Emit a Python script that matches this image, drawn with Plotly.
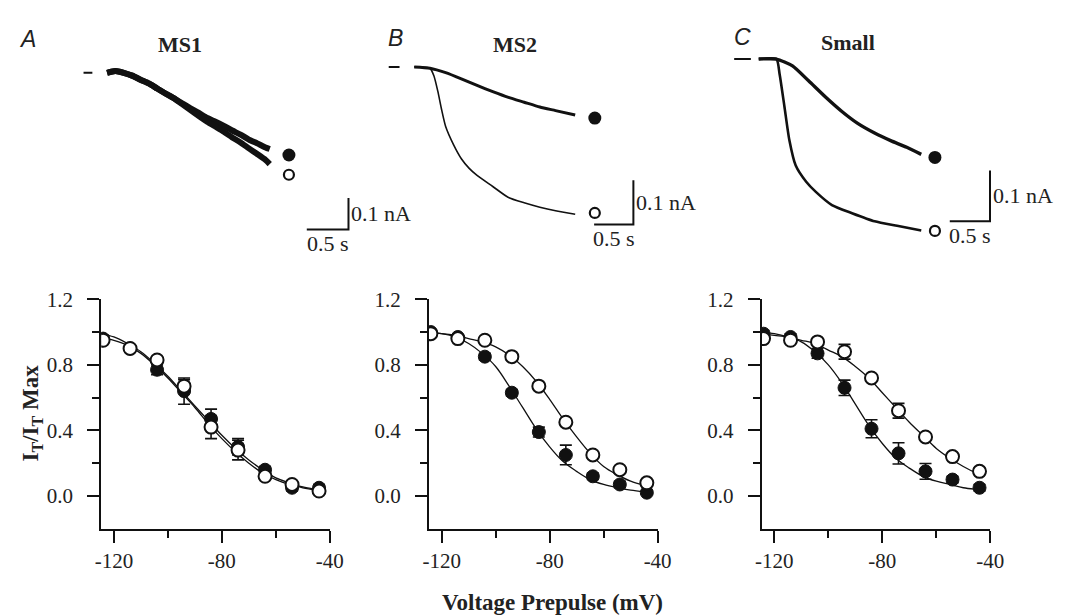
import plotly.graph_objects as go

W, H = 1073, 616

# ---------------- data: bottom row (steady-state inactivation) ----------------
v_prepulse = [-124, -114, -104, -94, -84, -74, -64, -54, -44]

ms1_filled = [0.96, 0.90, 0.77, 0.64, 0.47, 0.30, 0.16, 0.05, 0.05]
ms1_filled_err = [0.02, 0.02, 0.03, 0.08, 0.06, 0.05, 0.02, 0.02, 0.02]
ms1_open = [0.95, 0.90, 0.83, 0.67, 0.42, 0.28, 0.12, 0.07, 0.03]
ms1_open_err = [0.02, 0.02, 0.02, 0.04, 0.07, 0.06, 0.02, 0.02, 0.02]

ms2_filled = [1.00, 0.97, 0.85, 0.63, 0.39, 0.25, 0.12, 0.07, 0.02]
ms2_filled_err = [0.01, 0.01, 0.02, 0.02, 0.03, 0.06, 0.02, 0.02, 0.01]
ms2_open = [0.99, 0.96, 0.95, 0.85, 0.67, 0.45, 0.25, 0.16, 0.08]
ms2_open_err = [0.01, 0.01, 0.01, 0.02, 0.02, 0.02, 0.02, 0.02, 0.01]

small_filled = [0.99, 0.97, 0.87, 0.66, 0.41, 0.26, 0.15, 0.10, 0.05]
small_filled_err = [0.02, 0.02, 0.03, 0.047, 0.055, 0.065, 0.048, 0.02, 0.02]
small_open = [0.96, 0.95, 0.94, 0.88, 0.72, 0.52, 0.36, 0.24, 0.15]
small_open_err = [0.02, 0.02, 0.02, 0.045, 0.02, 0.045, 0.02, 0.02, 0.02]

# fitted curves
v_fit = [-125, -120, -115, -110, -105, -100, -95, -90, -85, -80, -75, -70, -65, -60, -55, -50, -45, -43]
ms1_filled_fit = [0.99, 0.97, 0.93, 0.88, 0.81, 0.73, 0.64, 0.55, 0.46, 0.37, 0.29, 0.22, 0.16, 0.11, 0.08, 0.055, 0.04, 0.035]
ms1_open_fit = [0.97, 0.95, 0.92, 0.87, 0.80, 0.72, 0.63, 0.54, 0.44, 0.35, 0.27, 0.20, 0.14, 0.10, 0.07, 0.05, 0.035, 0.03]
ms2_filled_fit = [1.00, 0.99, 0.97, 0.93, 0.87, 0.79, 0.67, 0.54, 0.41, 0.30, 0.21, 0.15, 0.10, 0.07, 0.05, 0.035, 0.025, 0.022]
ms2_open_fit = [1.00, 0.99, 0.98, 0.96, 0.94, 0.91, 0.86, 0.79, 0.70, 0.59, 0.47, 0.36, 0.26, 0.18, 0.13, 0.09, 0.065, 0.058]
small_filled_fit = [1.00, 0.99, 0.97, 0.94, 0.88, 0.80, 0.69, 0.56, 0.43, 0.32, 0.23, 0.17, 0.12, 0.09, 0.07, 0.05, 0.04, 0.037]
small_open_fit = [0.99, 0.98, 0.97, 0.95, 0.93, 0.89, 0.85, 0.79, 0.72, 0.63, 0.54, 0.45, 0.37, 0.29, 0.23, 0.18, 0.14, 0.13]

x_tickvals = [-120, -80, -40]
x_ticktext = ["-120", "-80", "-40"]
y_tickvals = [0.0, 0.4, 0.8, 1.2]
y_ticktext = ["0.0", "0.4", "0.8", "1.2"]

# ---------------- data: top row (current traces, time in s, current in nA) ----------------
ms1_t = [0, 0.1, 0.2, 0.3, 0.4, 0.5, 0.6, 0.7, 0.8, 0.9, 1.0, 1.1, 1.2, 1.3, 1.4, 1.5, 1.6, 1.7, 1.8, 1.9, 1.95]
ms1_upper = [0, 0.006, 0, -0.009, -0.022, -0.034, -0.050, -0.066, -0.081, -0.097, -0.113, -0.128,
             -0.144, -0.156, -0.169, -0.184, -0.197, -0.213, -0.225, -0.238, -0.243]
ms1_lower = [0, 0.006, 0, -0.009, -0.022, -0.034, -0.050, -0.066, -0.081, -0.100, -0.119, -0.138,
             -0.156, -0.172, -0.188, -0.206, -0.222, -0.241, -0.259, -0.278, -0.291]

ms2_t_slow = [0, 0.2, 0.4, 0.6, 0.8, 1.0, 1.2, 1.4, 1.6, 1.8, 2.05]
ms2_slow = [0, -0.003, -0.013, -0.027, -0.042, -0.056, -0.069, -0.080, -0.091, -0.099, -0.109]
ms2_t_fast = [0, 0.1, 0.2, 0.25, 0.3, 0.35, 0.4, 0.5, 0.6, 0.7, 0.8, 1.0, 1.2, 1.4, 1.6, 1.8, 2.05]
ms2_fast = [0, 0, -0.003, -0.02, -0.055, -0.098, -0.135, -0.176, -0.208, -0.230, -0.246, -0.271,
            -0.296, -0.308, -0.318, -0.326, -0.334]

small_t_slow = [0, 0.22, 0.42, 0.62, 0.83, 1.03, 1.23, 1.44, 1.64, 1.84, 2.02]
small_slow = [0, 0, -0.0135, -0.043, -0.075, -0.103, -0.127, -0.146, -0.161, -0.174, -0.188]
small_t_fast = [0, 0.22, 0.26, 0.32, 0.38, 0.46, 0.59, 0.71, 0.91, 1.16, 1.44, 1.72, 2.02]
small_fast = [0, 0, -0.030, -0.094, -0.159, -0.210, -0.242, -0.262, -0.288, -0.304, -0.320, -0.329, -0.338]

# end-of-trace symbols (time, current)
end_t = [2.18, 2.30, 2.19]
end_filled_I = [-0.262, -0.116, -0.194]
end_open_I = [-0.325, -0.331, -0.339]

scale_t, scale_I = 0.5, 0.1   # scale bar sizes

# ---------------- layout helpers ----------------
SERIF = "Liberation Serif"
SANS = "Liberation Sans"
INK = "#111"


def px(x):
    return x / W


def py(y):
    return 1 - y / H


fig = go.Figure()

bottom = [
    dict(x0=97, x1=330, filled=ms1_filled, ferr=ms1_filled_err, opn=ms1_open, oerr=ms1_open_err,
         ffit=ms1_filled_fit, ofit=ms1_open_fit),
    dict(x0=431, x1=664, filled=ms2_filled, ferr=ms2_filled_err, opn=ms2_open, oerr=ms2_open_err,
         ffit=ms2_filled_fit, ofit=ms2_open_fit),
    dict(x0=770, x1=1003, filled=small_filled, ferr=small_filled_err, opn=small_open, oerr=small_open_err,
         ffit=small_filled_fit, ofit=small_open_fit),
]
Y_TOP, Y_BOT = 293, 527

layout_axes = {}
for i, p in enumerate(bottom):
    n = i + 1
    xa = "x" if n == 1 else f"x{n}"
    ya = "y" if n == 1 else f"y{n}"
    for fit in (p["ofit"], p["ffit"]):
        fig.add_trace(go.Scatter(x=v_fit, y=fit, mode="lines", line=dict(color=INK, width=1.3, shape="spline"),
                                 xaxis=xa, yaxis=ya, showlegend=False, hoverinfo="skip"))
    fig.add_trace(go.Scatter(x=v_prepulse, y=p["filled"], mode="markers",
                             marker=dict(symbol="circle", size=13, color=INK, line=dict(color=INK, width=1)),
                             error_y=dict(type="data", array=p["ferr"], color=INK, thickness=1.6, width=6),
                             xaxis=xa, yaxis=ya, showlegend=False))
    fig.add_trace(go.Scatter(x=v_prepulse, y=p["opn"], mode="markers",
                             marker=dict(symbol="circle", size=13, color="white", line=dict(color=INK, width=2)),
                             error_y=dict(type="data", array=p["oerr"], color=INK, thickness=1.6, width=6),
                             xaxis=xa, yaxis=ya, showlegend=False))
    axcommon = dict(showline=True, linecolor=INK, linewidth=2, ticks="outside", tickcolor=INK,
                    tickwidth=2, ticklen=12, showgrid=False, zeroline=False,
                    tickfont=dict(family=SERIF, size=21, color="#222"))
    layout_axes["xaxis" if n == 1 else f"xaxis{n}"] = dict(
        axcommon, domain=[px(p["x0"]), px(p["x1"])], range=[-124.7, -40], anchor=ya,
        tickvals=x_tickvals, ticktext=x_ticktext, ticklabelstandoff=0,
        minor=dict(tickvals=[-100, -60], ticklen=7, tickwidth=2, ticks="outside", tickcolor=INK))
    layout_axes["yaxis" if n == 1 else f"yaxis{n}"] = dict(
        axcommon, domain=[py(Y_BOT), py(Y_TOP)], range=[-0.2, 1.2], anchor=xa,
        tickvals=y_tickvals, ticktext=y_ticktext, ticklabelstandoff=10,
        minor=dict(tickvals=[0.2, 0.6, 1.0], ticklen=7, tickwidth=2, ticks="outside", tickcolor=INK))

# top panels: origin pixel (t=0, I=0), px per s, px per nA, box, dash, scale-bar corner pixel
top = [
    dict(ox=103, oy=62, sx=85, sy=320, box=(60, 440, 0, 262), dash=(79, 88), corner=(349, 221.7),
         traces=[(ms1_t, ms1_upper, 6), (ms1_t, ms1_lower, 6)]),
    dict(ox=416, oy=56, sx=80, sy=450, box=(380, 720, 0, 262), dash=(390, 401), corner=(639.3, 216.7),
         traces=[(ms2_t_slow, ms2_slow, 3), (ms2_t_fast, ms2_fast, 1.6)]),
    dict(ox=767, oy=48, sx=82, sy=517, box=(730, 1073, 0, 262), dash=(742, 759), corner=(1002.7, 213.3),
         traces=[(small_t_slow, small_slow, 3.4), (small_t_fast, small_fast, 2.6)]),
]

annotations = []
for i, p in enumerate(top):
    n = i + 4
    xa, ya = f"x{n}", f"y{n}"
    L, R, T, B = p["box"]
    layout_axes[f"xaxis{n}"] = dict(domain=[px(L), px(R)], range=[(L - p["ox"]) / p["sx"], (R - p["ox"]) / p["sx"]],
                                    visible=False, anchor=ya)
    layout_axes[f"yaxis{n}"] = dict(domain=[py(B), py(T)], range=[(p["oy"] - B) / p["sy"], (p["oy"] - T) / p["sy"]],
                                    visible=False, anchor=xa)
    for (t, cur, w) in p["traces"]:
        fig.add_trace(go.Scatter(x=t, y=cur, mode="lines", line=dict(color=INK, width=w, shape="spline", smoothing=0.6),
                                 xaxis=xa, yaxis=ya, showlegend=False, hoverinfo="skip"))
    d0, d1 = p["dash"]
    fig.add_trace(go.Scatter(x=[(d0 - p["ox"]) / p["sx"], (d1 - p["ox"]) / p["sx"]], y=[0, 0], mode="lines",
                             line=dict(color=INK, width=2), xaxis=xa, yaxis=ya, showlegend=False, hoverinfo="skip"))
    fig.add_trace(go.Scatter(x=[end_t[i]], y=[end_filled_I[i]], mode="markers",
                             marker=dict(size=13, color=INK), xaxis=xa, yaxis=ya, showlegend=False))
    fig.add_trace(go.Scatter(x=[end_t[i]], y=[end_open_I[i]], mode="markers",
                             marker=dict(size=10, color="white", line=dict(color=INK, width=2.2)),
                             xaxis=xa, yaxis=ya, showlegend=False))
    cx, cy = p["corner"]
    tc, ic = (cx - p["ox"]) / p["sx"], (p["oy"] - cy) / p["sy"]
    fig.add_trace(go.Scatter(x=[tc - scale_t, tc, tc], y=[ic, ic, ic + scale_I], mode="lines",
                             line=dict(color=INK, width=2), xaxis=xa, yaxis=ya, showlegend=False, hoverinfo="skip"))
    annotations.append(dict(x=tc, y=ic + scale_I / 2, xref=xa, yref=ya, text=f"{scale_I} nA", showarrow=False,
                            xanchor="left", yanchor="middle", xshift=1,
                            font=dict(family=SERIF, size=22, color="#222")))
    annotations.append(dict(x=tc - scale_t / 2, y=ic, xref=xa, yref=ya, text=f"{scale_t} s", showarrow=False,
                            xanchor="center", yanchor="top", yshift=0,
                            font=dict(family=SERIF, size=22, color="#222")))

for letter, lx, ly, title, tx, ty in [("A", 22, 28, "MS1", 177, 33), ("B", 397, 27, "MS2", 519, 33),
                                      ("C", 750, 25, "Small", 858, 31)]:
    annotations.append(dict(x=px(lx), y=py(ly), xref="paper", yref="paper", text=f"<i>{letter}</i>",
                            showarrow=False, xanchor="center", yanchor="middle",
                            font=dict(family=SANS, size=23, color="#222")))
    annotations.append(dict(x=px(tx), y=py(ty), xref="paper", yref="paper", text=f"<b>{title}</b>",
                            showarrow=False, xanchor="center", yanchor="middle",
                            font=dict(family=SERIF, size=22, color="#222")))

annotations.append(dict(x=px(557), y=py(602), xref="paper", yref="paper", text="<b>Voltage Prepulse (mV)</b>",
                        showarrow=False, xanchor="center", yanchor="middle",
                        font=dict(family=SERIF, size=23, color="#222")))
annotations.append(dict(x=px(27), y=py(409), xref="paper", yref="paper",
                        text="<b>I<sub>T</sub>/I<sub>T</sub> Max</b>", textangle=-90,
                        showarrow=False, xanchor="center", yanchor="middle",
                        font=dict(family=SERIF, size=23, color="#222")))

fig.update_layout(width=W, height=H, margin=dict(l=0, r=0, t=0, b=0), paper_bgcolor="white",
                  plot_bgcolor="rgba(0,0,0,0)", showlegend=False, annotations=annotations, **layout_axes)

fig.write_html("out.html", config={"displayModeBar": False},
               post_script="document.body.style.margin='0';document.body.style.overflow='hidden';")
